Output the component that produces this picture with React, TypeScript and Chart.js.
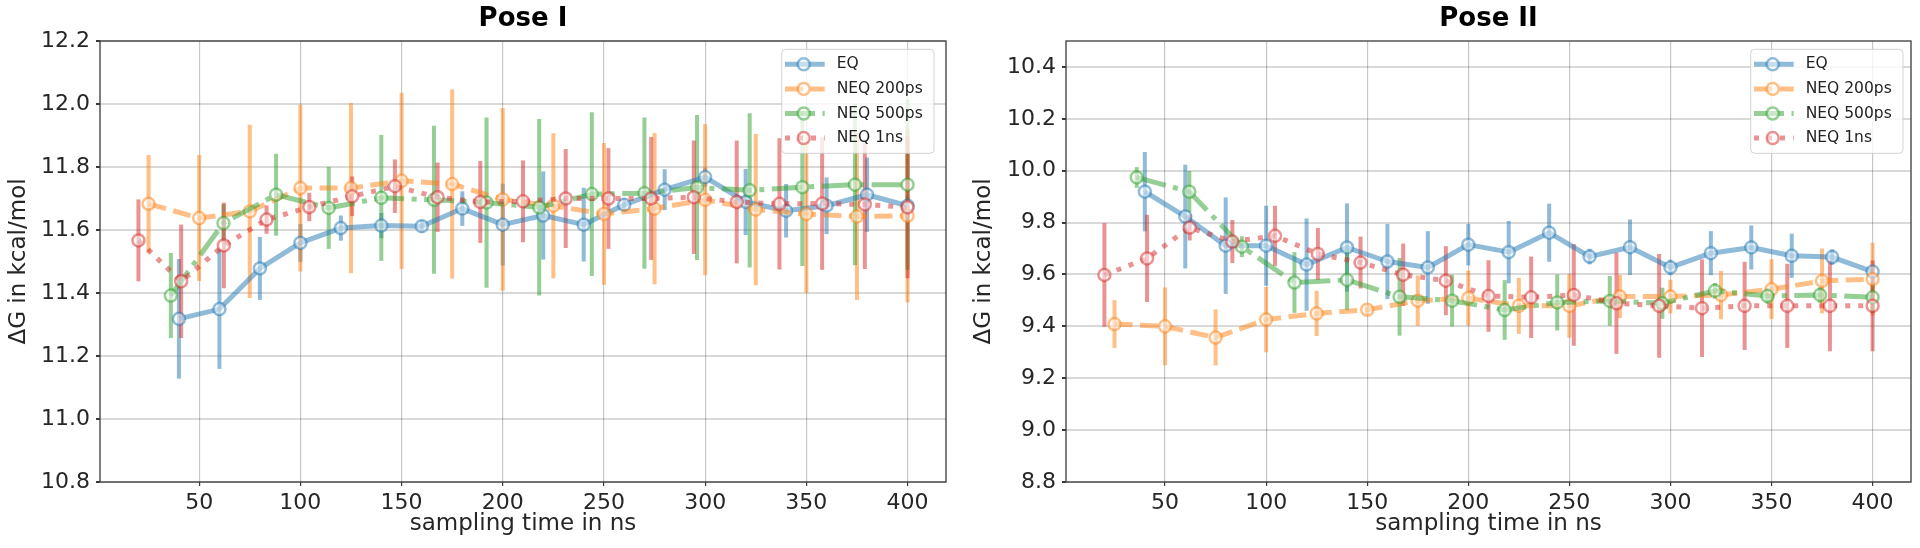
import React, { useEffect, useRef } from 'react';
import { Chart, registerables } from 'chart.js';

Chart.register(...registerables);

const FONT = '"DejaVu Sans", "Liberation Sans", sans-serif';

// ---------- data ----------
const seriesNames = ['EQ', 'NEQ 200ps', 'NEQ 500ps', 'NEQ 1ns'];

const xTicks = [50, 100, 150, 200, 250, 300, 350, 400];
const yTicksPoseI = [10.8, 11.0, 11.2, 11.4, 11.6, 11.8, 12.0, 12.2];
const yTicksPoseII = [8.8, 9.0, 9.2, 9.4, 9.6, 9.8, 10.0, 10.2, 10.4];

const xEQ = [40, 60, 80, 100, 120, 140, 160, 180, 200, 220, 240, 260, 280, 300, 320, 340, 360, 380, 400];
const x200ps = [25, 50, 75, 100, 125, 150, 175, 200, 225, 250, 275, 300, 325, 350, 375, 400];
const x500ps = [36, 62, 88, 114, 140, 166, 192, 218, 244, 270, 296, 322, 348, 374, 400];
const x1ns = [20, 41.1, 62.2, 83.3, 104.4, 125.6, 146.7, 167.8, 188.9, 210, 231.1, 252.2, 273.3, 294.4, 315.6, 336.7, 357.8, 378.9, 400];

// Pose I
const poseI_EQ = [11.318, 11.349, 11.478, 11.559, 11.606, 11.614, 11.612, 11.668, 11.617, 11.646, 11.617, 11.68, 11.728, 11.768, 11.689, 11.661, 11.677, 11.712, 11.677];
const poseI_EQ_err = [0.19, 0.19, 0.1, 0.06, 0.04, 0.04, 0.02, 0.055, 0.13, 0.14, 0.117, 0.02, 0.065, 0.03, 0.105, 0.085, 0.09, 0.118, 0.03];
const poseI_200 = [11.683, 11.638, 11.659, 11.733, 11.733, 11.756, 11.746, 11.697, 11.677, 11.651, 11.668, 11.696, 11.665, 11.651, 11.643, 11.645];
const poseI_200_err = [0.155, 0.2, 0.275, 0.265, 0.27, 0.28, 0.3, 0.29, 0.23, 0.225, 0.24, 0.24, 0.24, 0.25, 0.265, 0.275];
const poseI_500 = [11.392, 11.622, 11.712, 11.67, 11.702, 11.696, 11.687, 11.672, 11.714, 11.717, 11.735, 11.726, 11.736, 11.744, 11.744];
const poseI_500_err = [0.135, 0.06, 0.13, 0.13, 0.2, 0.235, 0.27, 0.28, 0.26, 0.24, 0.23, 0.245, 0.25, 0.256, 0.27];
const poseI_1ns = [11.567, 11.437, 11.551, 11.633, 11.673, 11.707, 11.739, 11.704, 11.689, 11.691, 11.7, 11.7, 11.7, 11.704, 11.689, 11.683, 11.684, 11.681, 11.672];
const poseI_1ns_err = [0.13, 0.18, 0.136, 0.045, 0.045, 0.063, 0.085, 0.11, 0.13, 0.13, 0.157, 0.16, 0.195, 0.18, 0.195, 0.208, 0.21, 0.205, 0.225];

// Pose II
const poseII_EQ = [9.919, 9.823, 9.711, 9.711, 9.638, 9.704, 9.65, 9.627, 9.715, 9.686, 9.761, 9.669, 9.705, 9.627, 9.682, 9.704, 9.672, 9.667, 9.611];
const poseII_EQ_err = [0.153, 0.2, 0.186, 0.154, 0.178, 0.17, 0.145, 0.14, 0.08, 0.12, 0.112, 0.03, 0.107, 0.03, 0.085, 0.085, 0.085, 0.03, 0.02];
const poseII_200 = [9.409, 9.4, 9.357, 9.426, 9.45, 9.464, 9.499, 9.509, 9.479, 9.479, 9.515, 9.515, 9.521, 9.543, 9.575, 9.582];
const poseII_200_err = [0.092, 0.15, 0.108, 0.126, 0.087, 0.02, 0.097, 0.106, 0.108, 0.123, 0.083, 0.065, 0.093, 0.115, 0.125, 0.14];
const poseII_500 = [9.974, 9.919, 9.707, 9.569, 9.579, 9.514, 9.499, 9.463, 9.492, 9.498, 9.489, 9.537, 9.517, 9.521, 9.512];
const poseII_500_err = [0.04, 0.08, 0.04, 0.117, 0.117, 0.15, 0.1, 0.115, 0.108, 0.096, 0.06, 0.03, 0.03, 0.03, 0.06];
const poseII_1ns = [9.598, 9.662, 9.781, 9.727, 9.749, 9.679, 9.646, 9.599, 9.576, 9.517, 9.512, 9.521, 9.489, 9.479, 9.47, 9.479, 9.479, 9.479, 9.479];
const poseII_1ns_err = [0.2, 0.168, 0.05, 0.083, 0.116, 0.1, 0.1, 0.12, 0.133, 0.138, 0.157, 0.196, 0.195, 0.2, 0.188, 0.17, 0.162, 0.175, 0.175];

// ---------- styles ----------
const seriesRGB = ['31,119,180', '255,127,14', '44,160,44', '214,39,40'];
const seriesDash: number[][] = [[], [18, 7.5], [30, 7.5, 5, 7.5], [5, 8]];
const ALPHA = 0.5;
const LINE_W = 5;
const ERR_W = 4;
const POINT_R = 6;
const POINT_BW = 2.5;
const rgba = (c: string, a: number) => `rgba(${c},${a})`;

type Spec = {
  title: string;
  left: number;
  yMin: number;
  yMax: number;
  yTicks: number[];
  yAxisWidth: number;
  rightPad: number;
  yTitlePad: number;
  legendRightGap: number;
  xs: number[][];
  ys: number[][];
  errs: number[][];
};

const errorBarPlugin = {
  id: 'errorBars',
  beforeDatasetsDraw(chart: any) {
    const { ctx, chartArea: a, scales } = chart;
    ctx.save();
    ctx.beginPath();
    ctx.rect(a.left, a.top, a.right - a.left, a.bottom - a.top);
    ctx.clip();
    chart.data.datasets.forEach((ds: any) => {
      ctx.strokeStyle = ds.errorColor;
      ctx.lineWidth = ERR_W;
      ctx.lineCap = 'butt';
      ctx.setLineDash([]);
      ds.data.forEach((pt: any, j: number) => {
        const e = ds.errors[j];
        const px = scales.x.getPixelForValue(pt.x);
        ctx.beginPath();
        ctx.moveTo(px, scales.y.getPixelForValue(pt.y + e));
        ctx.lineTo(px, scales.y.getPixelForValue(pt.y - e));
        ctx.stroke();
      });
    });
    ctx.restore();
  },
};

const frameLegendPlugin = {
  id: 'frameLegend',
  afterDraw(chart: any, _args: any, opts: any) {
    const { ctx, chartArea: a } = chart;
    ctx.save();
    // axes frame
    ctx.setLineDash([]);
    ctx.strokeStyle = '#3a3a3a';
    ctx.lineWidth = 1.3;
    ctx.strokeRect(a.left, a.top, a.right - a.left, a.bottom - a.top);

    // legend
    const w = 152.3;
    const h = 104;
    const lx = a.right - opts.rightGap - w;
    const ly = a.top + 8.3;
    ctx.beginPath();
    ctx.roundRect(lx, ly, w, h, 4);
    ctx.fillStyle = 'rgba(255,255,255,0.8)';
    ctx.fill();
    ctx.strokeStyle = 'rgba(200,200,200,0.8)';
    ctx.lineWidth = 1;
    ctx.stroke();

    chart.data.datasets.forEach((ds: any, i: number) => {
      const cy = ly + 15 + i * 24.6;
      const x0 = lx + 3.3;
      const x1 = lx + 43;
      ctx.beginPath();
      ctx.setLineDash(ds.borderDash || []);
      ctx.lineCap = 'butt';
      ctx.strokeStyle = ds.borderColor;
      ctx.lineWidth = LINE_W;
      ctx.moveTo(x0, cy);
      ctx.lineTo(x1, cy);
      ctx.stroke();
      ctx.setLineDash([]);
      ctx.beginPath();
      ctx.arc(lx + 22, cy, POINT_R, 0, Math.PI * 2);
      ctx.fillStyle = ds.pointBackgroundColor;
      ctx.fill();
      ctx.lineWidth = POINT_BW;
      ctx.strokeStyle = ds.pointBorderColor;
      ctx.stroke();
      ctx.fillStyle = '#222';
      ctx.font = `15.5px ${FONT}`;
      ctx.textAlign = 'left';
      ctx.textBaseline = 'middle';
      ctx.fillText(ds.label, lx + 55, cy);
    });
    ctx.restore();
  },
};

function buildConfig(spec: Spec): any {
  const datasets = seriesNames.map((name, i) => ({
    label: name,
    data: spec.xs[i].map((x, j) => ({ x, y: spec.ys[i][j] })),
    errors: spec.errs[i],
    errorColor: rgba(seriesRGB[i], ALPHA),
    borderColor: rgba(seriesRGB[i], ALPHA),
    borderWidth: LINE_W,
    borderDash: seriesDash[i],
    borderCapStyle: 'butt',
    borderJoinStyle: 'round',
    pointRadius: POINT_R,
    pointHoverRadius: POINT_R,
    pointBorderWidth: POINT_BW,
    pointBorderColor: rgba(seriesRGB[i], ALPHA),
    pointBackgroundColor: 'rgba(255,255,255,0.5)',
    fill: false,
    tension: 0,
    order: seriesNames.length - i,
  }));

  return {
    type: 'line',
    data: { datasets },
    plugins: [errorBarPlugin, frameLegendPlugin],
    options: {
      responsive: false,
      animation: false,
      devicePixelRatio: 1,
      events: [],
      layout: { padding: { left: 0, right: spec.rightPad, top: 0, bottom: 0 } },
      plugins: {
        legend: { display: false },
        tooltip: { enabled: false },
        title: {
          display: true,
          text: spec.title,
          fullSize: false,
          color: '#000',
          font: { family: FONT, size: 26, weight: 'bold' },
          padding: { top: 4, bottom: 5.8 },
        },
        frameLegend: { rightGap: spec.legendRightGap },
      },
      scales: {
        x: {
          type: 'linear',
          min: 1,
          max: 419,
          afterBuildTicks: (s: any) => {
            s.ticks = xTicks.map((v) => ({ value: v }));
          },
          afterFit: (s: any) => {
            s.height = 66;
          },
          grid: { color: 'rgba(0,0,0,0.22)', lineWidth: 1.2, tickLength: 4, tickColor: '#3a3a3a', drawTicks: true },
          border: { display: false },
          ticks: {
            padding: 4,
            autoSkip: false,
            maxRotation: 0,
            color: '#262626',
            font: { family: FONT, size: 22 },
            callback: (v: any) => String(v),
          },
          title: {
            display: true,
            text: 'sampling time in ns',
            color: '#262626',
            font: { family: FONT, size: 23 },
            padding: { top: 0, bottom: 10.6 },
          },
        },
        y: {
          type: 'linear',
          min: spec.yMin,
          max: spec.yMax,
          afterBuildTicks: (s: any) => {
            s.ticks = spec.yTicks.map((v) => ({ value: v }));
          },
          afterFit: (s: any) => {
            s.width = spec.yAxisWidth;
          },
          grid: { color: 'rgba(0,0,0,0.15)', lineWidth: 2, tickLength: 4, tickColor: '#3a3a3a', drawTicks: true },
          border: { display: false },
          ticks: {
            padding: 6,
            autoSkip: false,
            color: '#262626',
            font: { family: FONT, size: 22 },
            callback: (v: any) => Number(v).toFixed(1),
          },
          title: {
            display: true,
            text: 'ΔG in kcal/mol',
            color: '#262626',
            font: { family: FONT, size: 23 },
            padding: { top: spec.yTitlePad, bottom: 0 },
          },
        },
      },
    },
  };
}

const poseISpec: Spec = {
  title: 'Pose I',
  left: 0,
  yMin: 10.8,
  yMax: 12.2,
  yTicks: yTicksPoseI,
  yAxisWidth: 100,
  rightPad: 14,
  yTitlePad: 5.6,
  legendRightGap: 12,
  xs: [xEQ, x200ps, x500ps, x1ns],
  ys: [poseI_EQ, poseI_200, poseI_500, poseI_1ns],
  errs: [poseI_EQ_err, poseI_200_err, poseI_500_err, poseI_1ns_err],
};

const poseIISpec: Spec = {
  title: 'Pose II',
  left: 960,
  yMin: 8.8,
  yMax: 10.5,
  yTicks: yTicksPoseII,
  yAxisWidth: 106,
  rightPad: 9,
  yTitlePad: 10.5,
  legendRightGap: 8,
  xs: [xEQ, x200ps, x500ps, x1ns],
  ys: [poseII_EQ, poseII_200, poseII_500, poseII_1ns],
  errs: [poseII_EQ_err, poseII_200_err, poseII_500_err, poseII_1ns_err],
};

function PoseChart({ spec }: { spec: Spec }) {
  const ref = useRef<HTMLCanvasElement>(null);
  useEffect(() => {
    const chart = new Chart(ref.current as HTMLCanvasElement, buildConfig(spec));
    return () => chart.destroy();
  }, [spec]);
  return (
    <canvas
      ref={ref}
      width={960}
      height={548}
      style={{ position: 'absolute', left: spec.left, top: 0, width: 960, height: 548 }}
    />
  );
}

export default function App() {
  return (
    <div style={{ position: 'fixed', left: 0, top: 0, width: 1920, height: 548, background: '#fff', overflow: 'hidden' }}>
      <PoseChart spec={poseISpec} />
      <PoseChart spec={poseIISpec} />
    </div>
  );
}
